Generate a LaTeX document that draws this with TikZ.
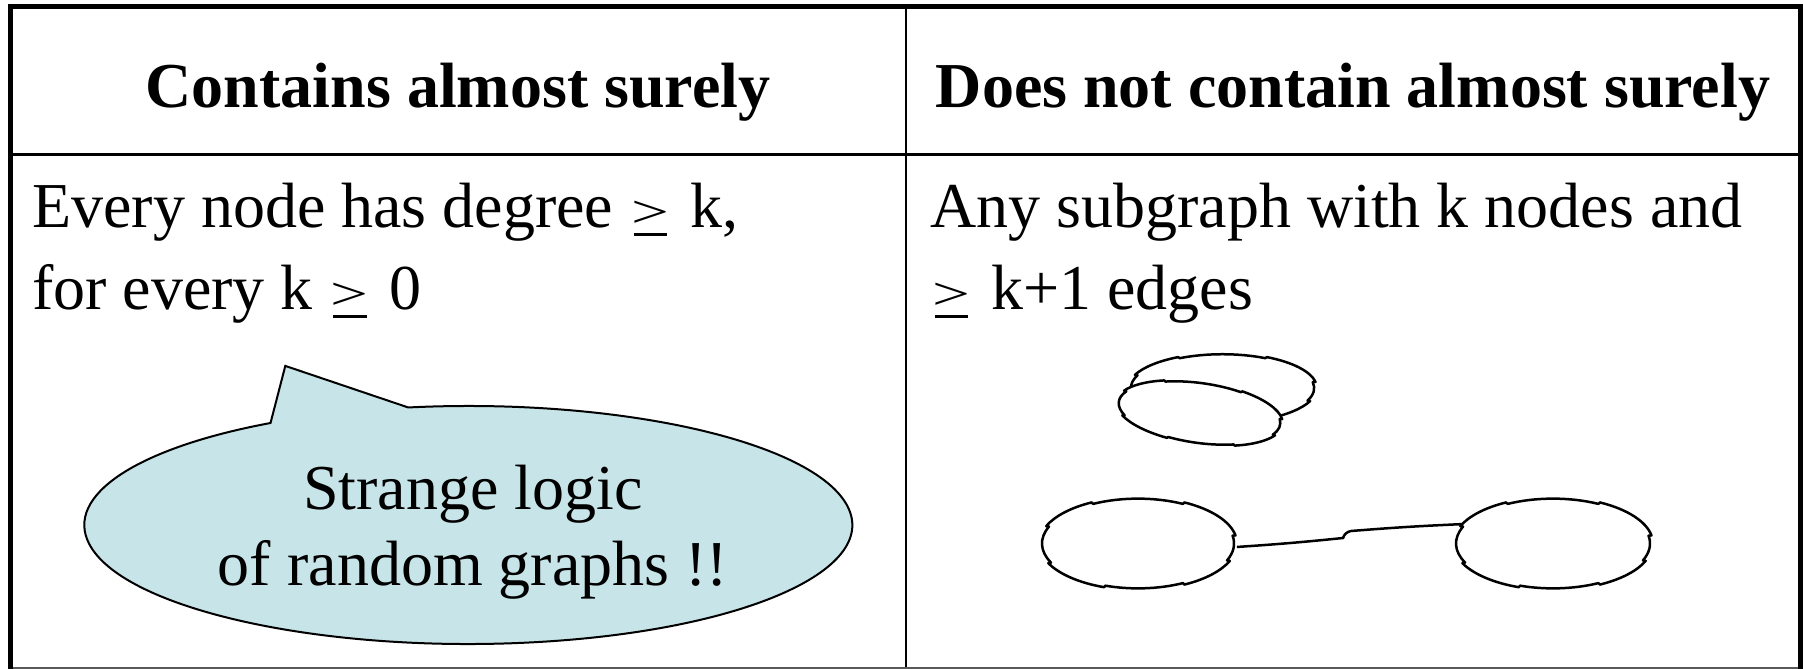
\documentclass[tikz,border=0pt]{standalone}
\usepackage{fontspec}
\setmainfont{Liberation Serif}
\usepackage{graphicx}
\usetikzlibrary{shapes.geometric}
\definecolor{bubblefill}{RGB}{199,228,232}
\newcommand{\ugeq}{\kern0.03em\makebox[0pt][l]{\hspace{0.04em}\rule[-0.14em]{0.52em}{0.045em}}\scalebox{1.05}[0.72]{>}\kern0.08em}
% #1 name, #2 cx, #3 cy, #4 a, #5 b, #6 rotation
\newcommand{\blobshape}[6]{%
  \node[ellipse, draw=none, minimum width={2*#4}, minimum height={2*#5}, inner sep=0pt, rotate=#6] (#1) at (#2,#3) {};
  \draw[blobline, shift={(#2,#3)}, rotate=#6]
    (10:#4 and #5) arc[start angle=10, end angle=62, x radius=#4, y radius=#5]
    -- (62:{0.965*#4} and {0.965*#5}) arc[start angle=62, end angle=118, x radius={0.965*#4}, y radius={0.965*#5}]
    -- (118:#4 and #5) arc[start angle=118, end angle=158, x radius=#4, y radius=#5]
    -- (158:{0.97*#4} and {0.97*#5}) arc[start angle=158, end angle=205, x radius={0.97*#4}, y radius={0.97*#5}]
    -- (205:#4 and #5) arc[start angle=205, end angle=250, x radius=#4, y radius=#5]
    -- (250:{0.965*#4} and {0.965*#5}) arc[start angle=250, end angle=298, x radius={0.965*#4}, y radius={0.965*#5}]
    -- (298:#4 and #5) arc[start angle=298, end angle=338, x radius=#4, y radius=#5]
    -- (338:{0.97*#4} and {0.97*#5}) arc[start angle=338, end angle=370, x radius={0.97*#4}, y radius={0.97*#5}]
    -- cycle;}
\begin{document}
\begin{tikzpicture}[x=1pt,y=1pt,
  txt/.style={inner sep=0pt, font=\fontsize{64}{76}\selectfont},
  headtxt/.style={txt, font=\fontsize{64}{76}\selectfont\bfseries, anchor=base},
  bodytxt/.style={txt, anchor=base west},
  blobline/.style={draw=black, line width=2.5pt, fill=white, line join=round},
  bubble/.style={draw=black, line width=2pt, fill=bubblefill, line join=miter},
  thick rule/.style={line width=5pt, line join=miter},
  thin rule/.style={line width=2.5pt}]
\useasboundingbox (0,0) rectangle (1804,-669);
% table
\draw[thin rule] (10,-154.5) -- (1800,-154.5);
\draw[thin rule] (906,-7) -- (906,-669);
\draw[line width=2pt, black!65] (10,-668) -- (1800,-668);
\draw[thick rule] (10,-669) -- (10,-7) -- (1800,-7) -- (1800,-669);
% headers
\node[headtxt] (h1) at (458,-107) {Contains almost surely};
\node[headtxt] (h2) at (1353,-107) {Does not contain almost surely};
% body text
\node[bodytxt] (l1) at (32,-227) {Every node has degree \ugeq{} k,};
\node[bodytxt] (l2) at (32,-309) {for every k \ugeq{} 0};
\node[bodytxt] (r1) at (930,-227) {Any subgraph with k nodes and};
\node[bodytxt] (r2) at (930,-309) {\ugeq{} k+1 edges};
% speech bubble
\path[bubble] (468.3,-525) ++(99:384 and 119) coordinate (b1)
  arc[start angle=99, end angle=-239, x radius=384, y radius=119]
  -- (285.3,-365.9) coordinate (tip) -- cycle;
\node[txt, anchor=base] (bt1) at (473,-509) {Strange logic};
\node[txt, anchor=base] (bt2) at (473,-585) {of random graphs !!};
% blobs
\blobshape{T1}{1222.5}{-388}{94.5}{35}{0}
\blobshape{T2}{1199.5}{-413}{84}{31}{-8}
\blobshape{L}{1138}{-543.5}{99}{46.5}{0}
\blobshape{R}{1553}{-543.5}{100}{46.5}{0}
\coordinate (m1) at (1343,-538);
\coordinate (m2) at (1351,-531);
\draw[line width=2.5pt] (L.-2) to[bend right=1] (m1) to[bend left=30] (m2) to[bend left=1] (R.168);
\end{tikzpicture}
\end{document}
